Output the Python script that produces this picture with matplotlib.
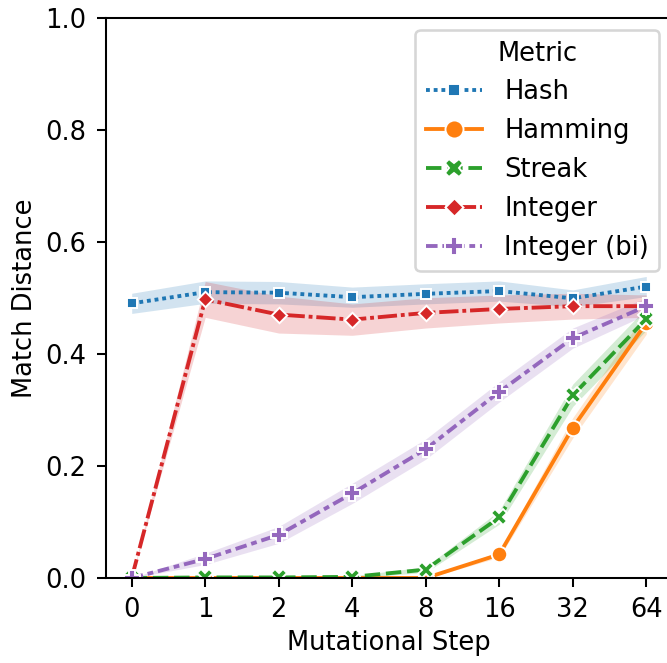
import matplotlib
matplotlib.use("Agg")
import matplotlib.pyplot as plt
from matplotlib.lines import Line2D
import numpy as np

# mutational steps (categorical on x)
steps = ["0", "1", "2", "4", "8", "16", "32", "64"]

metrics = ["Hash", "Hamming", "Streak", "Integer", "Integer (bi)"]

# mean match distance per step
hash_mean = [0.490, 0.510, 0.509, 0.501, 0.507, 0.512, 0.499, 0.520]
hamming_mean = [0.0, 0.0, 0.0, 0.0, 0.0, 0.042, 0.268, 0.455]
streak_mean = [0.0, 0.001, 0.001, 0.002, 0.015, 0.108, 0.326, 0.462]
integer_mean = [0.0, 0.497, 0.470, 0.461, 0.473, 0.480, 0.485, 0.485]
integer_bi_mean = [0.0, 0.034, 0.077, 0.151, 0.230, 0.332, 0.428, 0.485]

# half width of the 95% confidence band
hash_ci = [0.018, 0.02, 0.02, 0.018, 0.018, 0.018, 0.015, 0.018]
hamming_ci = [0.0, 0.0, 0.0, 0.0, 0.001, 0.005, 0.018, 0.02]
streak_ci = [0.0, 0.001, 0.001, 0.002, 0.005, 0.012, 0.02, 0.02]
integer_ci = [0.0, 0.032, 0.033, 0.028, 0.027, 0.025, 0.023, 0.02]
integer_bi_ci = [0.0, 0.01, 0.015, 0.018, 0.018, 0.018, 0.018, 0.015]

means = [hash_mean, hamming_mean, streak_mean, integer_mean, integer_bi_mean]
cis = [hash_ci, hamming_ci, streak_ci, integer_ci, integer_bi_ci]

colors = ["tab:blue", "tab:orange", "tab:green", "tab:red", "tab:purple"]
markers = [(4, 0, 45), "o", "X", (4, 0, 0), "P"]
dashes = [(1, 1), "", (4, 1.5), (5, 1, 1, 1), (3, 1.25, 1.5, 1.25)]

s = 1.85  # scale factor for line widths / sizes
plt.rcParams["font.size"] = 18.5
plt.rcParams["axes.linewidth"] = 0.8 * s
plt.rcParams["axes.labelpad"] = 5
plt.rcParams["xtick.major.width"] = 0.8 * s
plt.rcParams["ytick.major.width"] = 0.8 * s
plt.rcParams["xtick.major.size"] = 6.5
plt.rcParams["ytick.major.size"] = 6.5
plt.rcParams["xtick.major.pad"] = 7
plt.rcParams["ytick.major.pad"] = 7.5

fig = plt.figure(figsize=(6.67, 6.63), dpi=100)
ax = fig.add_axes([106 / 667, 85 / 663, 566 / 667, 560.5 / 663])

x = np.arange(len(steps))
handles = []
for name, m, ci, c, mk, d in zip(metrics, means, cis, colors, markers, dashes):
    m = np.array(m)
    ci = np.array(ci)
    ax.fill_between(x, m - ci, m + ci, color=c, alpha=0.2, linewidth=0)
    line, = ax.plot(
        x, m,
        color=c,
        marker=mk,
        markersize=6 * s,
        markeredgecolor="w",
        markeredgewidth=0.75 * s,
        linewidth=1.5 * s,
    )
    if d:
        line.set_dashes(d)

    # legend entry with a slightly larger marker
    h = Line2D([], [], color=c, marker=mk, markersize=13,
               markeredgecolor="w", markeredgewidth=0.75 * s,
               linewidth=1.5 * s, label=name)
    if d:
        h.set_dashes(d)
    handles.append(h)

ax.set_xticks(x)
ax.set_xticklabels(steps)
ax.set_xlim(-0.35, 7.35)
ax.set_ylim(0, 1)
ax.set_yticks([0.0, 0.2, 0.4, 0.6, 0.8, 1.0])

ax.set_xlabel("Mutational Step")
ax.set_ylabel("Match Distance")

leg = ax.legend(handles=handles, title="Metric", loc="upper right",
                title_fontsize=18.5, handlelength=2.2, handletextpad=0.85,
                borderaxespad=0.5)
leg.get_frame().set_linewidth(1.0 * s)

fig.savefig("out.png", dpi=100)
